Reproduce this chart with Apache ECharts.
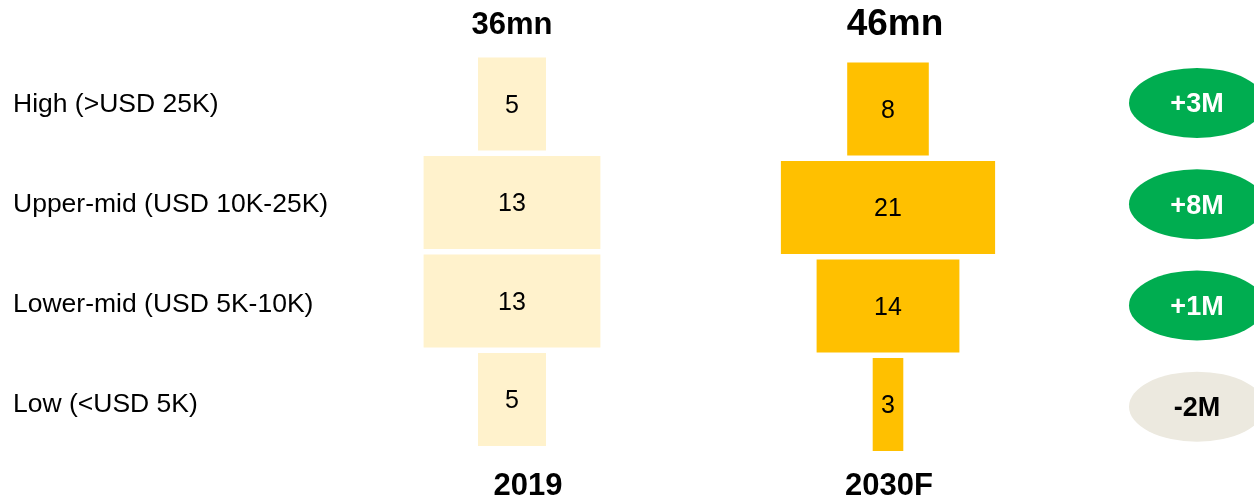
<!DOCTYPE html>
<html>
<head>
<meta charset="utf-8">
<title>income segments</title>
<script src="https://cdn.jsdelivr.net/npm/echarts@6/dist/echarts.min.js"></script>
<style>
  html, body { margin: 0; padding: 0; width: 100%; height: 100%; overflow: hidden; background: #fff; }
  #main { width: 1254px; height: 501px; }
</style>
</head>
<body>
<div id="main"></div>
<script>
// data
var categories = ['High (>USD 25K)', 'Upper-mid (USD 10K-25K)', 'Lower-mid (USD 5K-10K)', 'Low (<USD 5K)'];
var values2019 = [5, 13, 13, 5];
var values2030 = [8, 21, 14, 3];
var changes = [3, 8, 1, -2];
var totals = ['36mn', '46mn'];
var years = ['2019', '2030F'];

var FONT = '"Liberation Sans", Arial, sans-serif';
var MAX2019 = 14, MAX2030 = 22;

function offsets(vals, max) {
  return vals.map(function (v) { return (max - v) / 2; });
}

var myChart = echarts.init(document.getElementById('main'));

function catY(gridIndex) {
  return {
    type: 'category', gridIndex: gridIndex, data: categories, inverse: true,
    axisLine: { show: false }, axisTick: { show: false }, axisLabel: { show: false }, splitLine: { show: false }
  };
}

var option = {
  animation: false,
  backgroundColor: '#ffffff',
  grid: [
    { left: 13, top: 55, height: 400, width: 10 },          // row labels
    { left: 416.8, top: 54.75, height: 394, width: 190.4 },  // 2019
    { left: 775.8, top: 59.75, height: 394, width: 224.4 },  // 2030F
    { left: 1140, top: 52.3, height: 405, width: 114 }       // change bubbles
  ],
  xAxis: [
    { type: 'value', gridIndex: 0, min: 0, max: 1, show: false },
    { type: 'value', gridIndex: 1, min: 0, max: MAX2019, show: false },
    { type: 'value', gridIndex: 2, min: 0, max: MAX2030, show: false },
    { type: 'value', gridIndex: 3, min: 0, max: 1, show: false }
  ],
  yAxis: [
    {
      type: 'category', gridIndex: 0, data: categories, inverse: true,
      axisLine: { show: false }, axisTick: { show: false }, splitLine: { show: false },
      axisLabel: { inside: true, align: 'left', margin: 0, color: '#000', fontSize: 26.5, fontFamily: FONT }
    },
    catY(1), catY(2), catY(3)
  ],
  series: [
    {
      type: 'bar', xAxisIndex: 1, yAxisIndex: 1, stack: 'y2019', barWidth: 93,
      itemStyle: { color: 'transparent' }, silent: true,
      data: offsets(values2019, MAX2019)
    },
    {
      type: 'bar', xAxisIndex: 1, yAxisIndex: 1, stack: 'y2019', barWidth: 93,
      itemStyle: { color: '#fff2cc' },
      label: { show: true, position: 'inside', offset: [0, 2], color: '#000', fontSize: 25, fontFamily: FONT },
      data: values2019
    },
    {
      type: 'bar', xAxisIndex: 2, yAxisIndex: 2, stack: 'y2030', barWidth: 93,
      itemStyle: { color: 'transparent' }, silent: true,
      data: offsets(values2030, MAX2030)
    },
    {
      type: 'bar', xAxisIndex: 2, yAxisIndex: 2, stack: 'y2030', barWidth: 93,
      itemStyle: { color: '#ffc000' },
      label: { show: true, position: 'inside', offset: [0, 2], color: '#000', fontSize: 25, fontFamily: FONT },
      data: values2030
    },
    {
      type: 'scatter', xAxisIndex: 3, yAxisIndex: 3, symbol: 'circle', symbolSize: [136, 70], clip: false,
      data: changes.map(function (c, i) {
        return {
          value: [0.5, i],
          itemStyle: { color: c >= 0 ? '#00ad50' : '#ece9df', opacity: 1 },
          label: {
            show: true, position: 'inside', offset: [0, 2], fontWeight: 'bold', fontSize: 27, fontFamily: FONT,
            color: c >= 0 ? '#ffffff' : '#000000',
            formatter: (c >= 0 ? '+' : '') + c + 'M'
          }
        };
      })
    }
  ],
  graphic: [
    { type: 'text', x: 512, y: 25, style: { text: totals[0], textAlign: 'center', textVerticalAlign: 'middle', font: 'bold 31px ' + FONT, fill: '#000' } },
    { type: 'text', x: 895, y: 25, style: { text: totals[1], textAlign: 'center', textVerticalAlign: 'middle', font: 'bold 37px ' + FONT, fill: '#000' } },
    { type: 'text', x: 528, y: 486, style: { text: years[0], textAlign: 'center', textVerticalAlign: 'middle', font: 'bold 31px ' + FONT, fill: '#000' } },
    { type: 'text', x: 889, y: 486, style: { text: years[1], textAlign: 'center', textVerticalAlign: 'middle', font: 'bold 31px ' + FONT, fill: '#000' } }
  ]
};

myChart.setOption(option);
</script>
</body>
</html>
